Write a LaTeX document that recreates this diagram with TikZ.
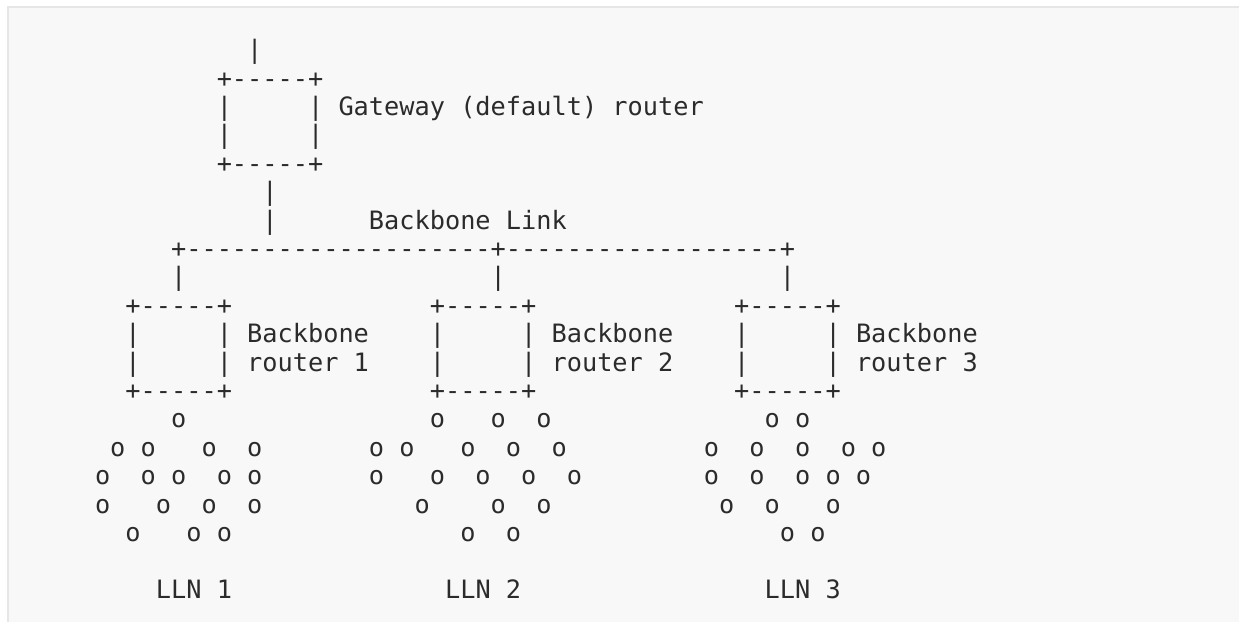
\documentclass[tikz,border=0pt]{standalone}
\usepackage{fontspec}
\setmonofont{DejaVu Sans Mono}
\definecolor{ink}{HTML}{2B2B2B}
\definecolor{panel}{HTML}{F8F8F8}
\definecolor{rule}{HTML}{E6E6E6}

\begin{document}
\begin{tikzpicture}[x=7.61pt, y=-14.2pt,
    ascii/.style={font=\ttfamily\fontsize{12.64}{14.2}\selectfont, anchor=base west, inner sep=0pt, text=ink}]
            % page and panel
            \path[use as bounding box, fill=white] (-6.216,-2.067) rectangle (75.19,19.835);
            \fill[panel] (-5.69,-1.82) rectangle (75.19,19.835);
            \draw[rule, line width=1pt] (-5.69,19.835) -- (-5.69,-1.82) -- (75.19,-1.82);
            % gateway router
            \node[ascii] (up) at (10,0) {|};
            \node[ascii] (gwtop) at (8,1) {+-----+};
            \node[ascii] (gwside1) at (8,2) {|~~~~~|};
            \node[ascii] (gwname) at (16,2) {Gateway (default) router};
            \node[ascii] (gwside2) at (8,3) {|~~~~~|};
            \node[ascii] (gwbot) at (8,4) {+-----+};
            \node[ascii] (down1) at (11,5) {|};
            \node[ascii] (down2) at (11,6) {|};
            \node[ascii] (linkname) at (18,6) {Backbone Link};
            % backbone link
            \node[ascii] (link) at (5,7) {+--------------------+------------------+};
            \node[ascii] (drop1) at (5,8) {|};
            \node[ascii] (drop2) at (26,8) {|};
            \node[ascii] (drop3) at (45,8) {|};
            % backbone routers
            \node[ascii] (bbr1top) at (2,9) {+-----+};
            \node[ascii] (bbr1a) at (2,10) {|~~~~~|~Backbone};
            \node[ascii] (bbr1b) at (2,11) {|~~~~~|~router~1};
            \node[ascii] (bbr1bot) at (2,12) {+-----+};
            \node[ascii] (bbr2top) at (22,9) {+-----+};
            \node[ascii] (bbr2a) at (22,10) {|~~~~~|~Backbone};
            \node[ascii] (bbr2b) at (22,11) {|~~~~~|~router~2};
            \node[ascii] (bbr2bot) at (22,12) {+-----+};
            \node[ascii] (bbr3top) at (42,9) {+-----+};
            \node[ascii] (bbr3a) at (42,10) {|~~~~~|~Backbone};
            \node[ascii] (bbr3b) at (42,11) {|~~~~~|~router~3};
            \node[ascii] (bbr3bot) at (42,12) {+-----+};
            % LLN 1
            \node[ascii] (lln1r1) at (5,13) {o};
            \node[ascii] (lln1r2) at (1,14) {o~o~~~o~~o};
            \node[ascii] (lln1r3) at (0,15) {o~~o~o~~o~o};
            \node[ascii] (lln1r4) at (0,16) {o~~~o~~o~~o};
            \node[ascii] (lln1r5) at (2,17) {o~~~o~o};
            \node[ascii] (lln1) at (4,19) {LLN~1};
            % LLN 2
            \node[ascii] (lln2r1) at (22,13) {o~~~o~~o};
            \node[ascii] (lln2r2) at (18,14) {o~o~~~o~~o~~o};
            \node[ascii] (lln2r3) at (18,15) {o~~~o~~o~~o~~o};
            \node[ascii] (lln2r4) at (21,16) {o~~~~o~~o};
            \node[ascii] (lln2r5) at (24,17) {o~~o};
            \node[ascii] (lln2) at (23,19) {LLN~2};
            % LLN 3
            \node[ascii] (lln3r1) at (44,13) {o~o};
            \node[ascii] (lln3r2) at (40,14) {o~~o~~o~~o~o};
            \node[ascii] (lln3r3) at (40,15) {o~~o~~o~o~o};
            \node[ascii] (lln3r4) at (41,16) {o~~o~~~o};
            \node[ascii] (lln3r5) at (45,17) {o~o};
            \node[ascii] (lln3) at (44,19) {LLN~3};
        \end{tikzpicture}
\end{document}
